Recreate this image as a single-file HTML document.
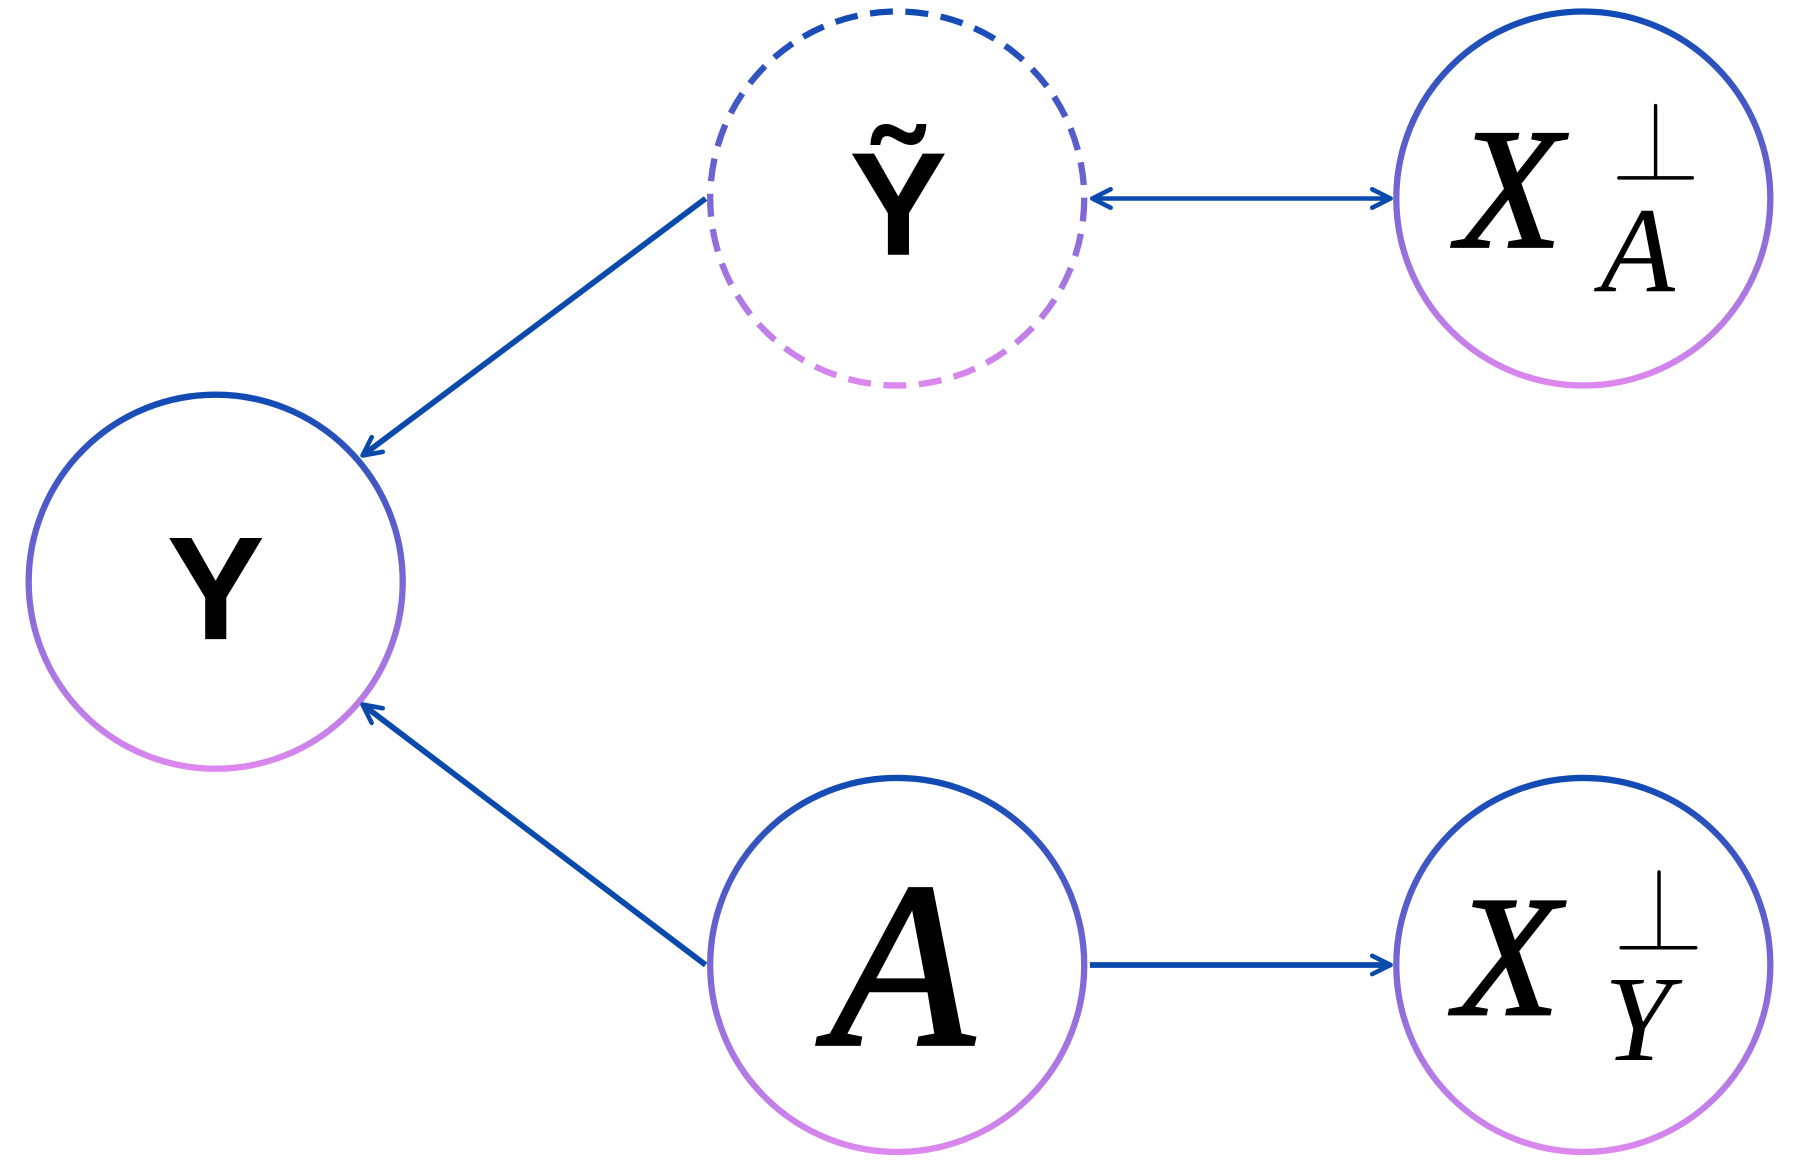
<!DOCTYPE html>
<html><head><style>html,body{margin:0;padding:0;background:#fff}svg{display:block}</style></head>
<body>
<svg width="1799" height="1160" viewBox="0 0 1568 1011" preserveAspectRatio="none" xmlns="http://www.w3.org/2000/svg">
<defs>
<linearGradient id="g" x1="0" y1="0" x2="0" y2="1">
<stop offset="0" stop-color="#0f4ab3"/><stop offset="0.5" stop-color="#7a66d6"/><stop offset="1" stop-color="#dc88ee"/>
</linearGradient>
<marker id="ah" viewBox="0 0 20 20" refX="18" refY="10" markerWidth="20" markerHeight="20" markerUnits="userSpaceOnUse" orient="auto-start-reverse">
<path d="M2,2 L18,10 L2,18" fill="none" stroke="#0a4aad" stroke-width="4" stroke-linecap="round" stroke-linejoin="round"/>
</marker>
</defs>
<g fill="none" stroke="url(#g)" stroke-width="5.5">
<circle cx="188" cy="507" r="163"/>
<circle cx="782" cy="173" r="163" stroke-dasharray="20 11"/>
<circle cx="1380" cy="173" r="163"/>
<circle cx="782" cy="841" r="163"/>
<circle cx="1380" cy="841" r="163"/>
</g>
<g stroke="#0a4aad" stroke-width="5" fill="none">
<line x1="615" y1="173" x2="316" y2="397" marker-end="url(#ah)"/>
<line x1="615" y1="841" x2="316" y2="614" marker-end="url(#ah)"/>
<line x1="952" y1="173" x2="1212" y2="173" stroke-width="4" marker-start="url(#ah)" marker-end="url(#ah)"/>
<line x1="950" y1="841" x2="1212" y2="841" marker-end="url(#ah)"/>
</g>
<g fill="#000">
<text x="188" y="557" font-family="Liberation Sans, sans-serif" font-weight="bold" font-size="128" text-anchor="middle">Y</text>
<text x="783" y="222" font-family="Liberation Sans, sans-serif" font-weight="bold" font-size="128" text-anchor="middle">Ỹ</text>
<text x="786" y="910" font-family="Liberation Serif, serif" font-style="italic" font-size="205" text-anchor="middle" stroke="#000" stroke-width="3">A</text>
<text x="1270" y="215" font-family="Liberation Serif, serif" font-style="italic" font-size="150" stroke="#000" stroke-width="2">X</text>
<text x="1395" y="254" font-family="Liberation Serif, serif" font-style="italic" font-size="106">A</text>
<text x="1268" y="884" font-family="Liberation Serif, serif" font-style="italic" font-size="150" stroke="#000" stroke-width="2">X</text>
<text x="1398" y="924" font-family="Liberation Serif, serif" font-style="italic" font-size="106">Y</text>
</g>
<g stroke="#000" stroke-width="3" stroke-linecap="round">
<line x1="1443" y1="92" x2="1443" y2="155"/><line x1="1411" y1="155" x2="1475" y2="155"/>
<line x1="1446" y1="760" x2="1446" y2="826"/><line x1="1413" y1="826" x2="1478" y2="826"/>
</g>
</svg>
</body></html>
